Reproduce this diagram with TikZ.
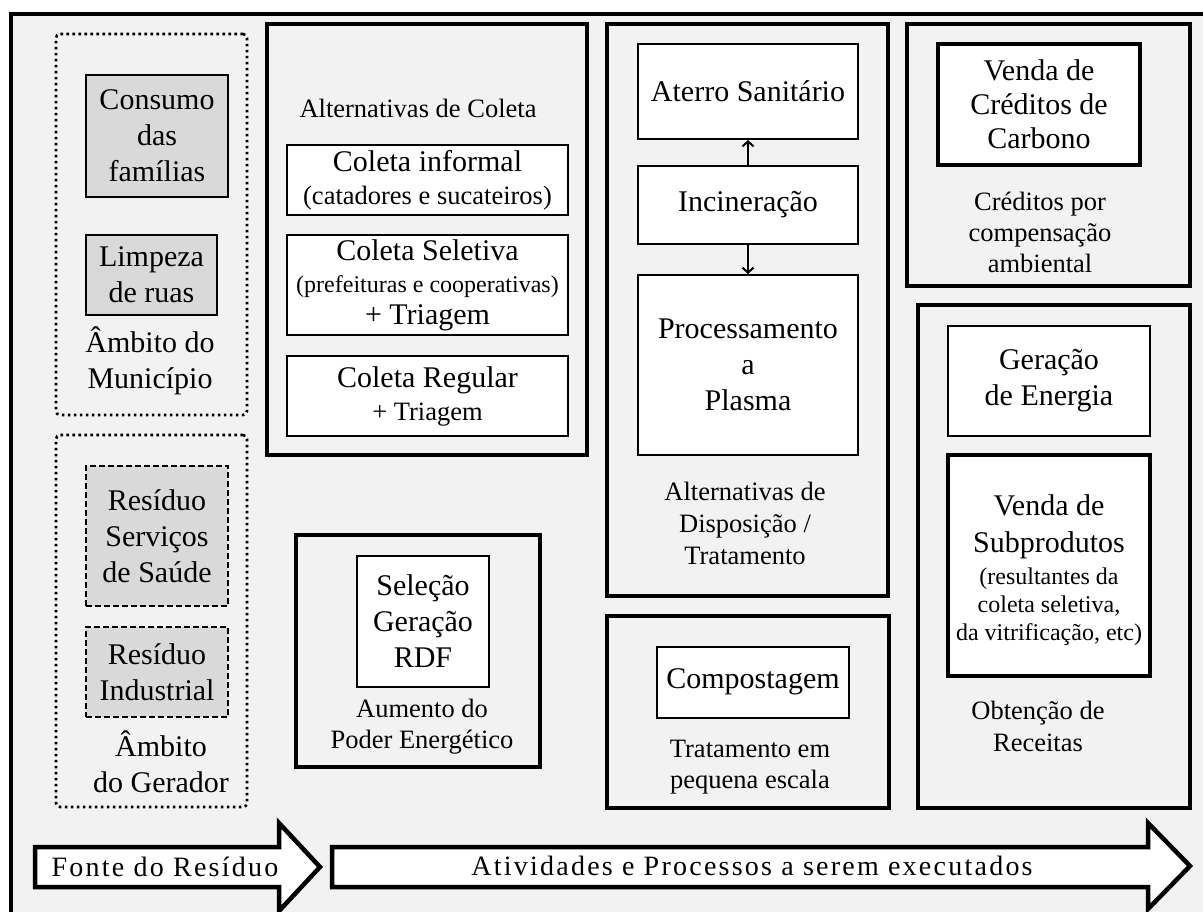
\documentclass[tikz,border=0pt]{standalone}
\usepackage{fontspec}
\setmainfont{Liberation Serif}
\newfontfamily\spacedfont[LetterSpace=8]{Liberation Serif}
\usetikzlibrary{arrows.meta}

\definecolor{bggrey}{HTML}{F2F2F2}
\definecolor{boxgrey}{HTML}{D9D9D9}

\newcommand{\bigtxt}{\fontsize{30}{36}\selectfont}
\newcommand{\midtxt}{\fontsize{26.5}{31}\selectfont}
\newcommand{\smltxt}{\fontsize{24}{28}\selectfont}

\tikzset{
  frame/.style={draw, line width=4pt, inner sep=0pt},
  dotframe/.style={draw, line width=2.6pt, dash pattern=on 2.6pt off 3.4pt, rounded corners=4pt, inner sep=0pt},
  whitebox/.style={draw, line width=2pt, fill=white, align=center, inner sep=0pt, font=\bigtxt},
  greybox/.style={whitebox, fill=boxgrey},
  dashbox/.style={greybox, dash pattern=on 6pt off 3pt},
  caption/.style={align=center, inner sep=0pt, font=\midtxt},
  conn/.style={line width=2pt, -{Straight Barb[length=5pt,width=11pt]}},
  bigarrow/.style={draw, line width=4.5pt, fill=white, miter limit=10},
  arrowtext/.style={inner sep=0pt, font=\spacedfont\fontsize{28}{32}\selectfont}
}

\begin{document}
\begin{tikzpicture}[x=1pt,y=-1pt]
\useasboundingbox (0,0) rectangle (1203,911);
\clip (0,0) rectangle (1203,911);
\fill[white] (0,0) rectangle (1203,911);
% page frame, running off the right and bottom edges
\draw[line width=4pt, fill=bggrey] (11,14) rectangle (1220,930);

% ---- source of the waste ----
\node[dotframe, minimum width=191pt, minimum height=381pt] (mun) at (151.5,224.5) {};
\node[greybox, minimum width=142pt, minimum height=122pt] (consumo) at (157,136) {Consumo\\das\\famílias};
\node[greybox, minimum width=131pt, minimum height=80pt] (limpeza) at (151.5,275) {Limpeza\\de ruas};
\node[caption, font=\bigtxt] (ambmun) at (150,361) {Âmbito do\\Município};

\node[dotframe, minimum width=191pt, minimum height=372pt] (ger) at (151.5,621) {};
\node[dashbox, minimum width=142pt, minimum height=140pt] (saude) at (157,536) {Resíduo\\Serviços\\de Saúde};
\node[dashbox, minimum width=142pt, minimum height=90pt] (indus) at (157,672) {Resíduo\\Industrial};
\node[caption, font=\bigtxt] (ambger) at (161,762) {Âmbito\\do Gerador};

% ---- collection ----
\node[frame, minimum width=320pt, minimum height=431pt] (coleta) at (427,239.5) {};
\node[caption] (altcol) at (418,108) {Alternativas de Coleta};
\node[whitebox, minimum width=281pt, minimum height=70pt] (informal) at (427.5,180)
  {Coleta informal\\[-3pt]\midtxt (catadores e sucateiros)};
\node[whitebox, minimum width=281pt, minimum height=100pt] (seletiva) at (427.5,285)
  {Coleta Seletiva\\[-4pt]{\smltxt (prefeituras e cooperativas)}\\[-4pt]+ Triagem};
\node[whitebox, minimum width=281pt, minimum height=80pt] (regular) at (427.5,396)
  {Coleta Regular\\[-3pt]\midtxt + Triagem};

\node[frame, minimum width=244pt, minimum height=232pt] (aumento) at (418,651) {};
\node[whitebox, minimum width=132pt, minimum height=131pt] (rdf) at (423,621.5) {Seleção\\Geração\\RDF};
\node[caption] (poder) at (422,727) {Aumento do\\Poder Energético};

% ---- disposal / treatment ----
\node[frame, minimum width=281pt, minimum height=572pt] (disp) at (747.5,310) {};
\node[whitebox, minimum width=220pt, minimum height=95pt] (aterro) at (748,91.5) {Aterro Sanitário};
\node[whitebox, minimum width=220pt, minimum height=78pt] (incin) at (748,205) {Incineração};
\node[whitebox, minimum width=220pt, minimum height=180pt] (plasma) at (748,365) {Processamento\\a\\Plasma};
\node[caption, font=\fontsize{26.5}{32}\selectfont] (altdisp) at (745,523) {Alternativas de\\Disposição /\\Tratamento};
\draw[conn] (incin.north) -- (aterro.south);
\draw[conn] (incin.south) -- (plasma.north);

\node[frame, minimum width=282pt, minimum height=192pt] (compfr) at (748,711.5) {};
\node[whitebox, minimum width=192pt, minimum height=71pt] (compost) at (753,682) {Compostagem};
\node[caption] (pequena) at (750,767) {Tratamento em\\pequena escala};

% ---- revenues ----
\node[frame, minimum width=283pt, minimum height=262pt] (credfr) at (1048.5,155) {};
\node[whitebox, line width=3.2pt, minimum width=202pt, minimum height=121pt] (carbono) at (1039,104.5)
  {Venda de\\[-2pt]Créditos de\\[-2pt]Carbono};
\node[caption] (compens) at (1040,232) {Créditos por\\compensação\\ambiental};

\node[frame, minimum width=272pt, minimum height=503pt] (receitas) at (1054,556.5) {};
\node[whitebox, minimum width=202pt, minimum height=110pt] (energia) at (1049,381) {Geração\\de Energia};
\node[whitebox, line width=4pt, minimum width=202pt, minimum height=221pt] (subprod) at (1049,565.5) {};
\node[align=center, inner sep=0pt, font=\smltxt] (subtxt) at (1049,570)
  {{\bigtxt Venda de}\\[9pt]{\bigtxt Subprodutos}\\[4pt](resultantes da\\coleta seletiva,\\da vitrificação, etc)};
\node[caption, font=\fontsize{26.5}{32}\selectfont] (obtencao) at (1038,726) {Obtenção de\\Receitas};

% ---- flow arrows ----
\draw[bigarrow] (35,847) -- (279,847) -- (279,823) -- (320,867) -- (279,911) -- (279,887) -- (35,887) -- cycle;
\node[arrowtext] (fonte) at (165,867) {Fonte do Resíduo};
\draw[bigarrow] (332,847) -- (1148,847) -- (1148,823) -- (1190,866) -- (1148,909) -- (1148,887) -- (332,887) -- cycle;
\node[arrowtext] (ativ) at (752,866) {Atividades e Processos a serem executados};
\end{tikzpicture}
\end{document}
